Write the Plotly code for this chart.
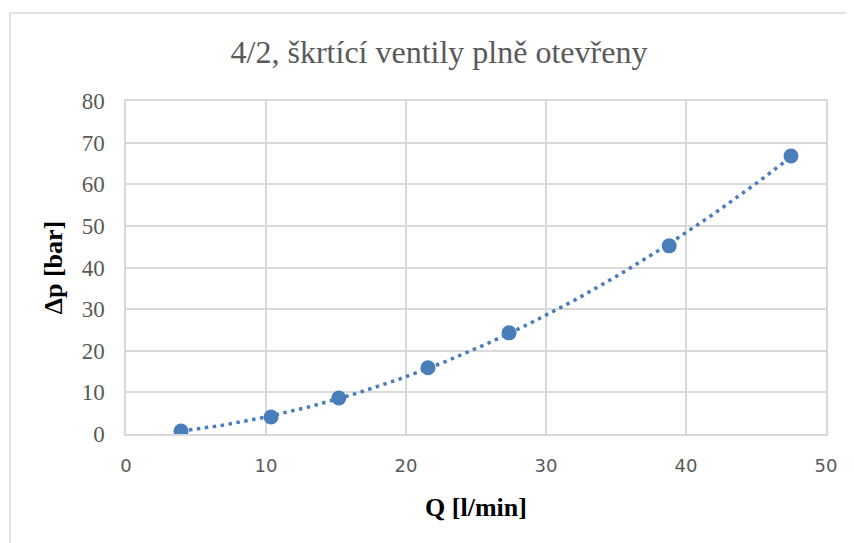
import numpy as np
import plotly.graph_objects as go

title_text = "4/2, škrtící ventily plně otevřeny"
x_label = "Q [l/min]"
y_label = "Δp [bar]"

Q = [3.93, 10.36, 15.2, 21.57, 27.36, 38.8, 47.5]
dp = [0.7, 4.1, 8.65, 15.9, 24.3, 45.2, 66.8]

x_ticks = [0, 10, 20, 30, 40, 50]
y_ticks = [0, 10, 20, 30, 40, 50, 60, 70, 80]

# polynomial (2nd order) trendline, as in the original spreadsheet chart
coef = np.polyfit(Q, dp, 2)
xt = np.linspace(min(Q), max(Q), 200)
yt = np.polyval(coef, xt)

blue = "#4A7EBB"
serif = "Liberation Serif, Times New Roman, serif"

# page offset (body margin 8px) compensation: plot area at page x 126..826, y 101..434
L, R, T, B = 118, 36, 93, 117
PW, PH = 700, 333

fig = go.Figure()
fig.add_trace(go.Scatter(x=xt, y=yt, mode="lines",
                         line=dict(color=blue, width=3.5, dash="3.5px,4.5px"),
                         hoverinfo="skip", showlegend=False))
fig.add_trace(go.Scatter(x=Q, y=dp, mode="markers",
                         marker=dict(color=blue, size=15),
                         showlegend=False))

fig.update_layout(
    width=854, height=543,
    margin=dict(l=L, r=R, t=T, b=B),
    paper_bgcolor="white", plot_bgcolor="white",
    title=dict(text=title_text, x=431 / 854, xanchor="center", y=1 - 44 / 543, yanchor="middle",
               font=dict(family=serif, size=32, color="#595959")),
    xaxis=dict(range=[0, 50], tickvals=x_ticks, showgrid=True, gridcolor="#d9d9d9", gridwidth=1.5,
               zeroline=False, showline=True, linecolor="#d9d9d9", linewidth=1.5, mirror=True,
               ticks="", ticklabelstandoff=15,
               tickfont=dict(family="DejaVu Sans", size=18, color="#595959"),
               title=dict(text=x_label, standoff=22,
                          font=dict(family=serif, size=26, color="black", weight="bold"))),
    yaxis=dict(range=[0, 80], tickvals=y_ticks, showgrid=True, gridcolor="#d9d9d9", gridwidth=1.5,
               zeroline=False, showline=True, linecolor="#d9d9d9", linewidth=1.5, mirror=True,
               ticks="", ticklabelstandoff=15,
               tickfont=dict(family=serif, size=23, color="#595959"),
               title=dict(text=y_label, standoff=12,
                          font=dict(family=serif, size=26, color="black", weight="bold"))),
    shapes=[dict(type="rect", xref="paper", yref="paper",
                 x0=(10 - 126) / PW, x1=(852 - 126) / PW,
                 y0=(434 - 560) / PH, y1=(434 - 13) / PH,
                 line=dict(color="#d9d9d9", width=1.5), fillcolor="rgba(0,0,0,0)", layer="below")],
)

fig.write_html("out.html")
